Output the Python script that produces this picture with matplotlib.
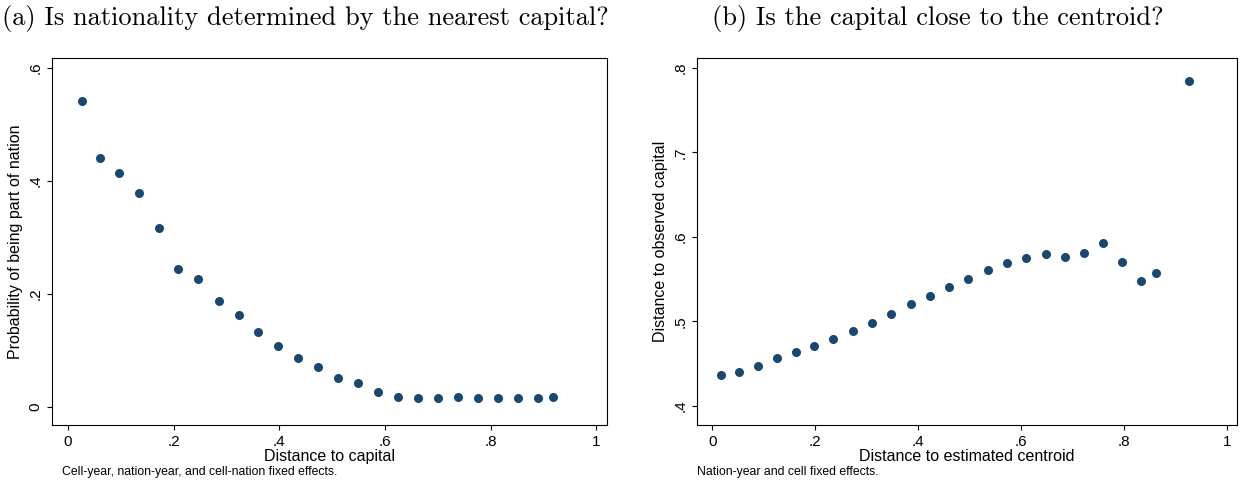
import matplotlib
matplotlib.use("Agg")
import matplotlib.pyplot as plt

plt.rcParams["font.family"] = ["Liberation Sans", "DejaVu Sans"]
plt.rcParams["axes.formatter.use_mathtext"] = True

DOT = "#1a476f"

# panel (a)
xa = [.026, .060, .096, .134, .172, .208, .247, .285, .323, .360, .398, .436, .474,
      .511, .549, .587, .625, .662, .700, .738, .775, .813, .851, .889, .917]
ya = [.542, .441, .414, .379, .317, .244, .227, .188, .163, .133, .108, .087, .071,
      .051, .042, .027, .018, .016, .016, .017, .016, .016, .015, .016, .018]

# panel (b)
xb = [.017, .052, .088, .125, .162, .198, .235, .273, .310, .348, .387, .423, .460,
      .496, .535, .573, .610, .648, .685, .723, .760, .796, .833, .863, .927]
yb = [.436, .440, .447, .456, .464, .471, .479, .489, .498, .508, .520, .530, .540,
      .550, .561, .569, .575, .580, .576, .581, .593, .570, .548, .557, .785]

xticks = [0, .2, .4, .6, .8, 1]
xtl = ["0", ".2", ".4", ".6", ".8", "1"]

fig = plt.figure(figsize=(12.41, 4.82), dpi=100)
W, H = 1241, 482

def panel(rect, x, y, yt, ytl, ylim, xlabel, ylabel, title, note, tx, nx):
    l, t, r, b = rect
    ax = fig.add_axes([l / W, 1 - b / H, (r - l) / W, (b - t) / H])
    ax.scatter(x, y, s=30, color=DOT, zorder=3)
    ax.set_xlim(-0.03, 1.02)
    ax.set_ylim(*ylim)
    ax.set_xticks(xticks, xtl)
    ax.set_yticks(yt, ytl, rotation=90, va="center")
    ax.tick_params(labelsize=11)
    ax.set_xlabel(xlabel, fontsize=11.5, labelpad=0)
    ax.set_ylabel(ylabel, fontsize=11.5)
    fig.text(tx / W, 1 - 18 / H, title, fontsize=19, family=["cmr10", "DejaVu Serif"],
             ha="left", va="center")
    fig.text(nx / W, 1 - 472 / H, note, fontsize=8.8, ha="left", va="center")
    return ax

panel((52, 58, 607, 425), xa, ya, [0, .2, .4, .6], ["0", ".2", ".4", ".6"],
      (-0.032, 0.618), "Distance to capital", "Probability of being part of nation",
      "(a) Is nationality determined by the nearest capital?",
      "Cell-year, nation-year, and cell-nation fixed effects.", 2, 62)
panel((697, 58, 1237, 425), xb, yb, [.4, .5, .6, .7, .8], [".4", ".5", ".6", ".7", ".8"],
      (0.377, 0.812), "Distance to estimated centroid", "Distance to observed capital",
      "(b) Is the capital close to the centroid?",
      "Nation-year and cell fixed effects.", 712, 697)

fig.savefig("out.png", dpi=100)
